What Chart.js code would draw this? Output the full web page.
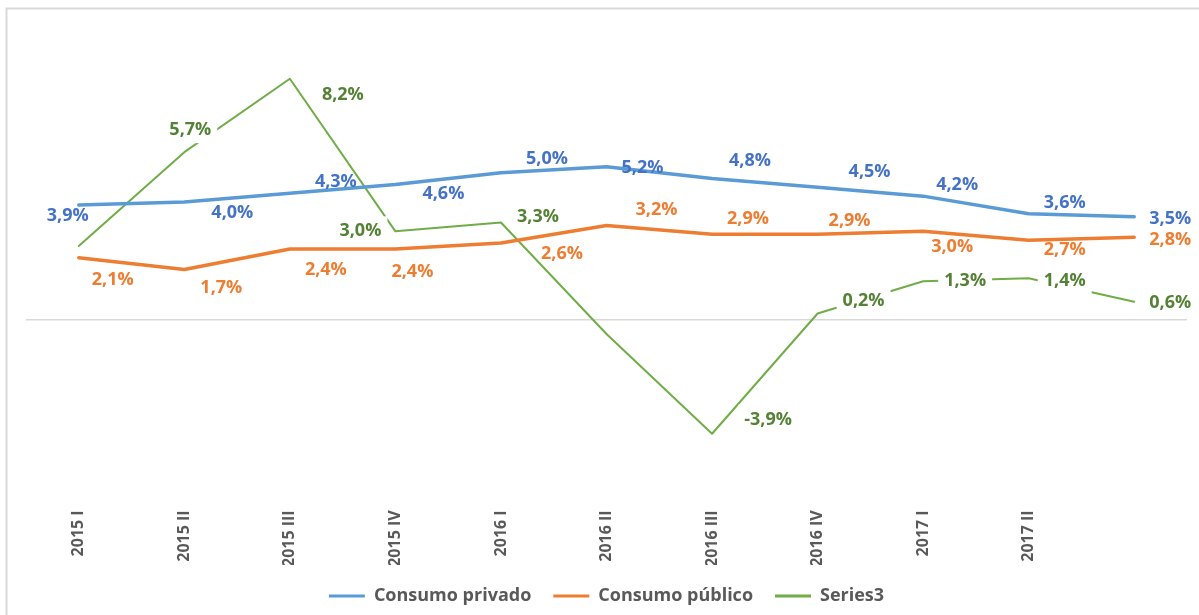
<!DOCTYPE html>
<html>
<head>
<meta charset="utf-8">
<script src="https://cdn.jsdelivr.net/npm/chart.js@4.4.1/dist/chart.umd.min.js"></script>
<style>
  html, body { margin: 0; padding: 0; background: #ffffff; }
  #chartCanvas { display: block; }
</style>
</head>
<body>
<canvas id="chartCanvas" width="1199" height="615"></canvas>
<script>
/* global Chart */

// Quarterly growth, % year on year
const QUARTERS        = ['2015 I', '2015 II', '2015 III', '2015 IV', '2016 I', '2016 II',
                         '2016 III', '2016 IV', '2017 I', '2017 II', ''];
const CONSUMO_PRIVADO = [3.9, 4.0, 4.3, 4.6, 5.0, 5.2, 4.8, 4.5, 4.2, 3.6, 3.5];
const CONSUMO_PUBLICO = [2.1, 1.7, 2.4, 2.4, 2.6, 3.2, 2.9, 2.9, 3.0, 2.7, 2.8];
const SERIES3         = [2.5, 5.7, 8.2, 3.0, 3.3, -0.5, -3.9, 0.2, 1.3, 1.4, 0.6];

// where each value label sits relative to its point (null = no label)
const PRIVADO_LABEL_POS = [[-11, 10], [48, 10], [46, -12], [48, 8], [46, -15], [36, 0],
                           [38, -19], [52, -16], [34, -12], [36, -12], [36, 1]];
const PUBLICO_LABEL_POS = [[34, 21], [37, 17], [36, 20], [17, 22], [61, 10], [50, -17],
                           [36, -16], [32, -14], [29, 15], [36, 9], [36, 2]];
const SERIES3_LABEL_POS = [null, [6, -23], [53, 15], [-35, -1], [37, -7], null,
                           [56, -15], [46, -14], [42, -1], [36, 2], [36, 0]];

const FONT_FAMILY = "'Open Sans', 'Noto Sans', sans-serif";
const TEXT_GREY   = '#595959';

const formatPercent = value => value.toFixed(1).replace('.', ',') + '%';

// light frame: only the top and left edges fall inside the canvas
const chartFrame = {
   id: 'chartFrame',
   beforeDraw(chart) {
      const ctx = chart.ctx;
      ctx.save();
      ctx.fillStyle = '#ffffff';
      ctx.fillRect(0, 0, chart.width, chart.height);
      ctx.strokeStyle = '#D9D9D9';
      ctx.lineWidth   = 2;
      ctx.strokeRect(6.5, 8.5, chart.width + 40, chart.height + 40);
      ctx.restore();
   }
};

const valueLabels = {
   id: 'valueLabels',
   afterDatasetsDraw(chart) {
      const ctx = chart.ctx;
      ctx.save();
      ctx.font         = 'bold 18px ' + FONT_FAMILY;
      ctx.textAlign    = 'center';
      ctx.textBaseline = 'middle';

      chart.data.datasets.forEach((dataset, i) => {
         const meta = chart.getDatasetMeta(i);
         meta.data.forEach((point, j) => {
            const offset = dataset.labelPositions[j];
            if (!offset) {
               return;
            }
            const text = formatPercent(dataset.data[j]);
            const x    = point.x + offset[0];
            const y    = point.y + offset[1];

            if (dataset.labelBackground) {
               const w = ctx.measureText(text).width + 12;
               ctx.fillStyle = dataset.labelBackground;
               ctx.fillRect(x - w / 2, y - 14, w, 28);
            }
            ctx.fillStyle = dataset.labelColor;
            ctx.fillText(text, x, y + 1);
         });
      });
      ctx.restore();
   }
};

const chartConfig = {
   type: 'line',
   data: {
      labels: QUARTERS,
      datasets: [{
         label:           'Consumo privado',
         data:            CONSUMO_PRIVADO,
         borderColor:     '#5B9BD5',
         backgroundColor: '#5B9BD5',
         borderWidth:     3.5,
         labelColor:      '#4472C4',
         labelPositions:  PRIVADO_LABEL_POS
      }, {
         label:           'Consumo público',
         data:            CONSUMO_PUBLICO,
         borderColor:     '#ED7D31',
         backgroundColor: '#ED7D31',
         borderWidth:     3.5,
         labelColor:      '#ED7D31',
         labelPositions:  PUBLICO_LABEL_POS
      }, {
         label:           'Series3',
         data:            SERIES3,
         borderColor:     '#70AD47',
         backgroundColor: '#70AD47',
         borderWidth:     2,
         labelColor:      '#548235',
         labelBackground: '#ffffff',
         labelPositions:  SERIES3_LABEL_POS
      }]
   },
   options: {
      responsive:       false,
      animation:        false,
      devicePixelRatio: 1,
      elements: {
         point: { radius: 0, hoverRadius: 0 },
         line:  { tension: 0, fill: false, borderCapStyle: 'round', borderJoinStyle: 'round' }
      },
      layout: {
         padding: { left: 26, right: 12, top: 26, bottom: 0 }
      },
      scales: {
         x: {
            offset: true,
            grid:   { display: false, drawTicks: false },
            border: { display: false },
            ticks: {
               autoSkip:    false,
               maxRotation: 90,
               minRotation: 90,
               padding:     15,
               color:       TEXT_GREY,
               font:        { family: FONT_FAMILY, weight: 'bold', size: 16 }
            },
            afterFit(scale) {
               // labels may reach into the legend's top margin
               scale.height -= 17;
            }
         },
         y: {
            min: -6,
            max: 10,
            ticks:  { display: false, stepSize: 2 },
            border: { display: false },
            grid: {
               drawTicks: false,
               lineWidth: 1.5,
               color:     context => context.tick.value === 0 ? '#D9D9D9' : 'rgba(0,0,0,0)'
            },
            afterFit(scale) {
               scale.width = 0;
            }
         }
      },
      plugins: {
         tooltip: { enabled: false },
         legend: {
            position: 'bottom',
            labels: {
               color:     TEXT_GREY,
               font:      { family: FONT_FAMILY, weight: 'bold', size: 18 },
               boxWidth:  36,
               boxHeight: 3,
               padding:   22,
               generateLabels(chart) {
                  return Chart.defaults.plugins.legend.labels.generateLabels(chart).map(item => {
                     item.fillStyle = item.strokeStyle;
                     item.lineWidth = 0;
                     return item;
                  });
               }
            }
         }
      }
   },
   plugins: [chartFrame, valueLabels]
};

new Chart(document.getElementById('chartCanvas'), chartConfig);
</script>
</body>
</html>
